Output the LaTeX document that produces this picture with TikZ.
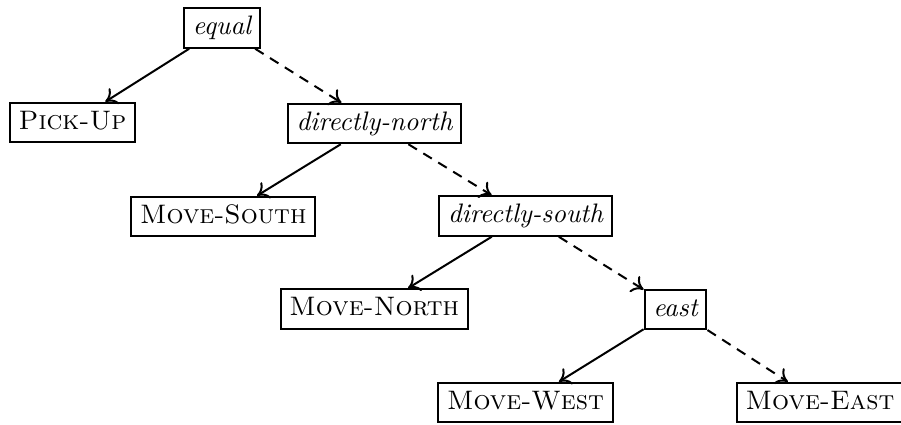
\documentclass[tikz,border=0pt]{standalone}
\usetikzlibrary{arrows.meta}
\begin{document}
\begin{tikzpicture}[x=1pt,y=1pt,
  tnode/.style={draw, line width=0.8pt, inner xsep=3.5pt, inner ysep=3.1pt,
    text height=7.5pt, text depth=2.1pt, font=\fontsize{10.7}{13}\selectfont},
  yes/.style={line width=0.8pt, -{To[length=4.5pt,width=7.5pt]}},
  no/.style={yes, dash pattern=on 4pt off 3pt}]
\useasboundingbox (0,0) rectangle (360.4,170);
% decision tree nodes
\node[tnode] (eq)  at (88.8,158.8) {\itshape equal};
\node[tnode] (pu)  at (29,121)     {\textsc{Pick-Up}};
\node[tnode] (dn)  at (149.8,120.6){\itshape directly-north};
\node[tnode] (ms)  at (89.3,83.4)  {\textsc{Move-South}};
\node[tnode] (ds)  at (210.2,83.6) {\itshape directly-south};
\node[tnode] (mn)  at (149.7,46.4) {\textsc{Move-North}};
\node[tnode] (ea)  at (270.2,46.2) {\itshape east};
\node[tnode] (mw)  at (210.2,9)    {\textsc{Move-West}};
\node[tnode] (me)  at (328,9)      {\textsc{Move-East}};
% branches: solid = true, dashed = false
\draw[yes] (eq) -- (pu);
\draw[no]  (eq) -- (dn);
\draw[yes] (dn) -- (ms);
\draw[no]  (dn) -- (ds);
\draw[yes] (ds) -- (mn);
\draw[no]  (ds) -- (ea);
\draw[yes] (ea) -- (mw);
\draw[no]  (ea) -- (me);
\end{tikzpicture}
\end{document}
